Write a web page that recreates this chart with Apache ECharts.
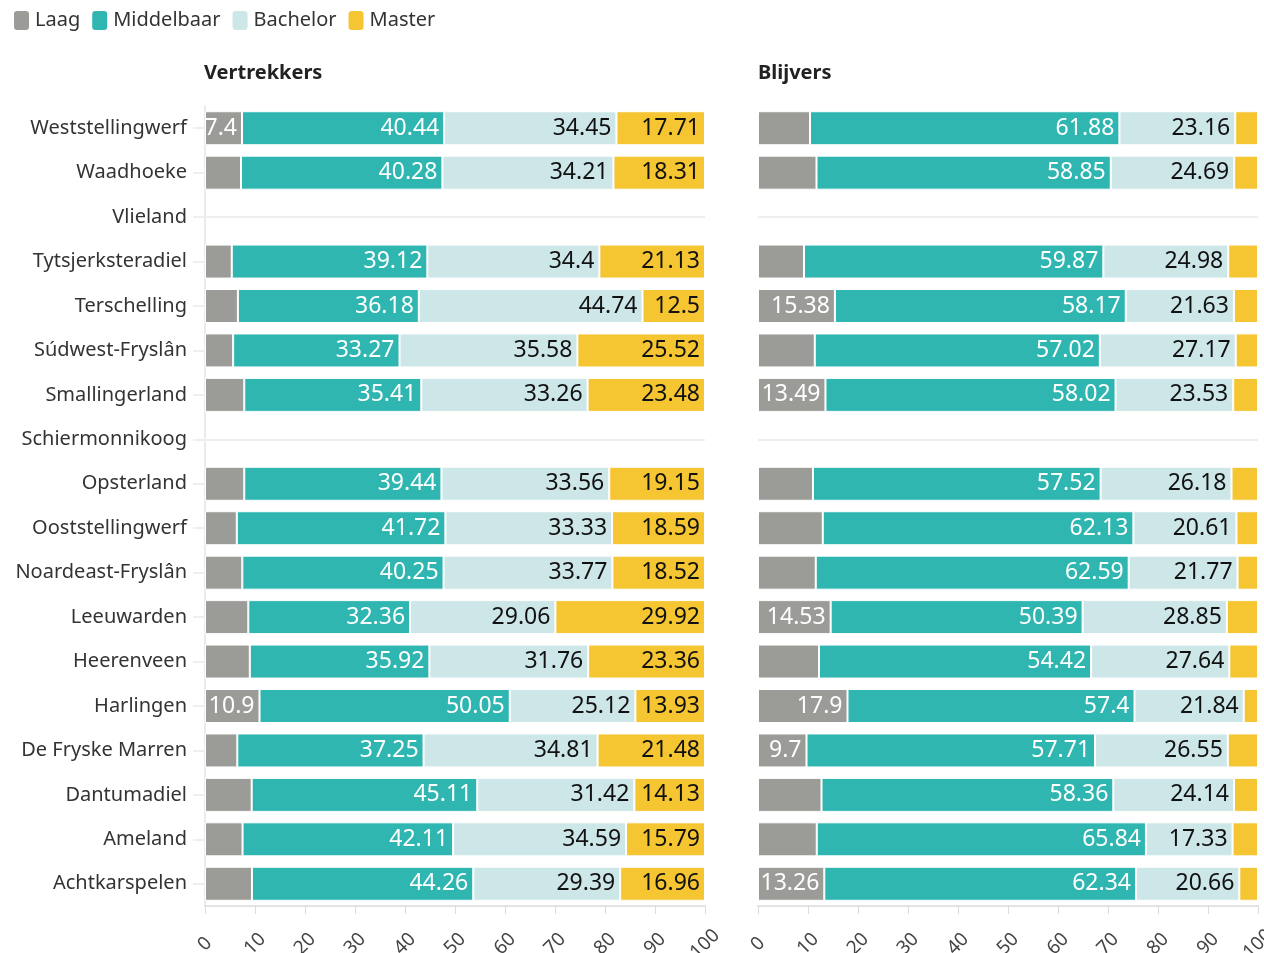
<!DOCTYPE html>
<html>
<head>
<meta charset="utf-8">
<script src="https://cdn.jsdelivr.net/npm/echarts@6/dist/echarts.min.js"></script>
<style>
  html, body { margin: 0; padding: 0; background: #fff; }
  #chart { width: 1264px; height: 953px; }
</style>
</head>
<body>
<div id="chart"></div>
<script>
// gemeenten, van boven naar beneden
const gemeenten = ['Weststellingwerf', 'Waadhoeke', 'Vlieland', 'Tytsjerksteradiel', 'Terschelling',
  'Súdwest-Fryslân', 'Smallingerland', 'Schiermonnikoog', 'Opsterland', 'Ooststellingwerf',
  'Noardeast-Fryslân', 'Leeuwarden', 'Heerenveen', 'Harlingen', 'De Fryske Marren',
  'Dantumadiel', 'Ameland', 'Achtkarspelen'];

const niveaus = ['Laag', 'Middelbaar', 'Bachelor', 'Master'];
const kleuren = ['#9b9b97', '#2fb6b1', '#cde6e8', '#f5c532'];

// Vertrekkers (%)
const vertrekLaag = [7.4, 7.2, '-', 5.35, 6.58, 5.63, 7.85, '-', 7.85, 6.36, 7.46, 8.66, 8.96, 10.9, 6.46, 9.34, 7.51, 9.39];
const vertrekMiddel = [40.44, 40.28, '-', 39.12, 36.18, 33.27, 35.41, '-', 39.44, 41.72, 40.25, 32.36, 35.92, 50.05, 37.25, 45.11, 42.11, 44.26];
const vertrekBachelor = [34.45, 34.21, '-', 34.4, 44.74, 35.58, 33.26, '-', 33.56, 33.33, 33.77, 29.06, 31.76, 25.12, 34.81, 31.42, 34.59, 29.39];
const vertrekMaster = [17.71, 18.31, '-', 21.13, 12.5, 25.52, 23.48, '-', 19.15, 18.59, 18.52, 29.92, 23.36, 13.93, 21.48, 14.13, 15.79, 16.96];
const vertrekLaagLabel = ['7.4', '', '', '', '', '', '', '', '', '', '', '', '', '10.9', '', '', '', ''];

// Blijvers (%)
const blijfLaag = [10.4, 11.7, '-', 9.2, 15.38, 11.35, 13.49, '-', 11.0, 12.95, 11.55, 14.53, 12.2, 17.9, 9.7, 12.7, 11.75, 13.26];
const blijfMiddel = [61.88, 58.85, '-', 59.87, 58.17, 57.02, 58.02, '-', 57.52, 62.13, 62.59, 50.39, 54.42, 57.4, 57.71, 58.36, 65.84, 62.34];
const blijfBachelor = [23.16, 24.69, '-', 24.98, 21.63, 27.17, 23.53, '-', 26.18, 20.61, 21.77, 28.85, 27.64, 21.84, 26.55, 24.14, 17.33, 20.66];
const blijfMaster = [4.56, 4.76, '-', 5.95, 4.82, 4.46, 4.96, '-', 5.3, 4.31, 4.09, 6.23, 5.74, 2.86, 6.04, 4.8, 5.08, 3.74];
const blijfLaagLabel = ['', '', '', '', '15.38', '', '13.49', '', '', '', '', '14.53', '', '17.9', '9.7', '', '', '13.26'];

const font = 'Noto Sans';
const chart = echarts.init(document.getElementById('chart'));

const gridTop = 106;
const gridHeight = 800;

function maakSerie(naam, data, idx, stack, labelCfg) {
  return {
    name: naam,
    type: 'bar',
    stack: stack,
    xAxisIndex: idx,
    yAxisIndex: idx * 2,
    barWidth: 34,
    data: data,
    itemStyle: { color: kleuren[niveaus.indexOf(naam)], borderColor: '#fff', borderWidth: 1 },
    label: Object.assign({
      show: true,
      position: 'insideRight',
      distance: 5,
      fontFamily: font,
      fontSize: 23
    }, labelCfg),
    emphasis: { disabled: true }
  };
}

function xAs(gridIndex) {
  return {
    type: 'value',
    gridIndex: gridIndex,
    min: 0,
    max: 100,
    interval: 10,
    axisLine: { show: true, lineStyle: { color: '#e4e4e4', width: 2 } },
    axisTick: { show: true, length: 8, lineStyle: { color: '#dcdcdc', width: 1 } },
    splitLine: { show: false },
    axisLabel: {
      rotate: 45,
      align: 'center',
      verticalAlign: 'middle',
      margin: 38,
      fontFamily: font,
      fontSize: 19,
      color: '#444'
    }
  };
}

const option = {
  animation: false,
  textStyle: { fontFamily: font },
  title: [
    { text: 'Vertrekkers', left: 204, top: 63, padding: 0, textStyle: { fontFamily: font, fontSize: 20, fontWeight: 'bold', color: '#222' } },
    { text: 'Blijvers', left: 758, top: 63, padding: 0, textStyle: { fontFamily: font, fontSize: 20, fontWeight: 'bold', color: '#222' } }
  ],
  legend: {
    data: niveaus,
    left: 12,
    top: 9,
    padding: 0,
    icon: 'roundRect',
    itemWidth: 17,
    itemHeight: 21,
    itemGap: 10,
    selectedMode: false,
    textStyle: { fontFamily: font, fontSize: 20, color: '#333' }
  },
  grid: [
    { left: 205, width: 500, top: gridTop, height: gridHeight, outerBoundsMode: 'none' },
    { left: 758, width: 500, top: gridTop, height: gridHeight, outerBoundsMode: 'none' }
  ],
  xAxis: [xAs(0), xAs(1)],
  yAxis: [
    {
      type: 'category',
      gridIndex: 0,
      inverse: true,
      data: gemeenten,
      axisLine: { show: true, lineStyle: { color: '#ebebeb', width: 2 } },
      axisTick: { show: true, inside: true, alignWithLabel: true, length: 500, lineStyle: { color: '#eeeeee', width: 2 } },
      axisLabel: { fontFamily: font, fontSize: 20, color: '#333', margin: 18 }
    },
    {
      type: 'category',
      gridIndex: 0,
      inverse: true,
      data: gemeenten,
      position: 'left',
      axisLine: { show: false },
      axisTick: { show: true, alignWithLabel: true, length: 12, lineStyle: { color: '#eeeeee', width: 2 } },
      axisLabel: { show: false }
    },
    {
      type: 'category',
      gridIndex: 1,
      inverse: true,
      data: gemeenten,
      axisLine: { show: false },
      axisTick: { show: true, inside: true, alignWithLabel: true, length: 500, lineStyle: { color: '#eeeeee', width: 2 } },
      axisLabel: { show: false }
    }
  ],
  series: [
    maakSerie('Laag', vertrekLaag, 0, 'vertrek', { color: '#fff', formatter: p => vertrekLaagLabel[p.dataIndex] }),
    maakSerie('Middelbaar', vertrekMiddel, 0, 'vertrek', { color: '#fff' }),
    maakSerie('Bachelor', vertrekBachelor, 0, 'vertrek', { color: '#111' }),
    maakSerie('Master', vertrekMaster, 0, 'vertrek', { color: '#111' }),
    maakSerie('Laag', blijfLaag, 1, 'blijf', { color: '#fff', formatter: p => blijfLaagLabel[p.dataIndex] }),
    maakSerie('Middelbaar', blijfMiddel, 1, 'blijf', { color: '#fff' }),
    maakSerie('Bachelor', blijfBachelor, 1, 'blijf', { color: '#111' }),
    maakSerie('Master', blijfMaster, 1, 'blijf', { show: false })
  ]
};

chart.setOption(option);
</script>
</body>
</html>
